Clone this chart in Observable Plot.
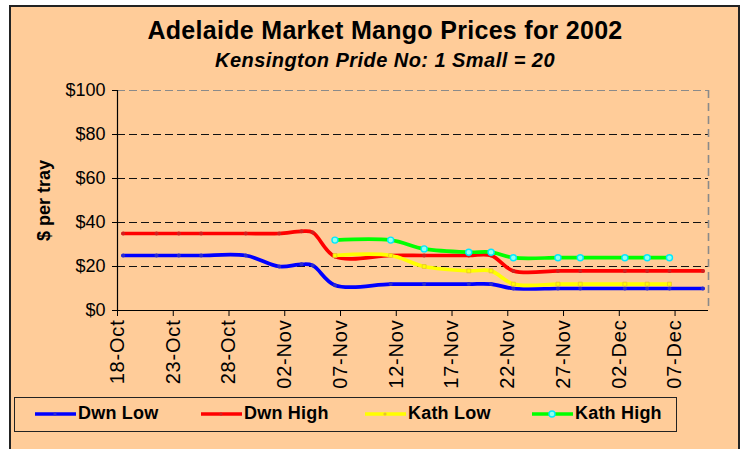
<!DOCTYPE html>
<html>
<head>
<meta charset="utf-8">
<script src="https://cdn.jsdelivr.net/npm/d3@7"></script>
<script src="https://cdn.jsdelivr.net/npm/@observablehq/plot@0.6"></script>
<style>
  html, body { margin: 0; padding: 0; background: #ffffff; width: 747px; height: 449px; overflow: hidden; }
  body { font-family: "Liberation Sans", Arial, sans-serif; position: relative; }
  #frame { position: absolute; left: 9px; top: 5px; width: 731px; height: 470px; background: #FFCC99; border: 2px solid #222; box-sizing: border-box; }
  .title { position: absolute; left: 0; width: 770px; text-align: center; color: #000; font-weight: bold; white-space: nowrap; }
  #t1 { top: 16px; font-size: 25px; letter-spacing: 0.3px; }
  #t2 { top: 49px; font-size: 20px; font-style: italic; letter-spacing: 0.45px; }
  #chart { position: absolute; left: 0; top: 76px; }
  #legend { position: absolute; left: 14px; top: 397px; width: 663px; height: 35px; border: 1.5px solid #222; box-sizing: border-box; }
  .item { position: absolute; top: 0; height: 32px; }
  .item svg { position: absolute; left: 0; top: 9px; }
  .item span { position: absolute; left: 44px; top: 5px; font-size: 18px; font-weight: bold; white-space: nowrap; letter-spacing: 0.2px; color: #000; }
</style>
</head>
<body>
<div id="frame"></div>
<div class="title" id="t1">Adelaide Market Mango Prices for 2002</div>
<div class="title" id="t2">Kensington Pride No: 1 Small = 20</div>
<div id="chart"></div>
<div id="legend"></div>
<script>
// ---- data ----
const dwnDates = ["2002-10-18","2002-10-21","2002-10-23","2002-10-25","2002-10-29","2002-11-01","2002-11-03","2002-11-04","2002-11-06","2002-11-11","2002-11-14","2002-11-18","2002-11-20","2002-11-22","2002-11-26","2002-11-28","2002-12-02","2002-12-04","2002-12-06","2002-12-09"];
const dwnLow  = [25, 25, 25, 25, 25, 20, 21, 20.5, 11.5, 12, 12, 12, 12, 10, 10, 10, 10, 10, 10, 10];
const dwnHigh = [35, 35, 35, 35, 35, 35, 36, 35.5, 24.5, 25, 25, 25, 25, 18, 18, 18, 18, 18, 18, 18];
const kathDates = ["2002-11-06","2002-11-11","2002-11-14","2002-11-18","2002-11-20","2002-11-22","2002-11-26","2002-11-28","2002-12-02","2002-12-04","2002-12-06"];
const kathLow  = [25, 25, 20, 18, 18, 12, 12, 12, 12, 12, 12];
const kathHigh = [32, 32, 28, 26.5, 26.5, 24, 24, 24, 24, 24, 24];
const seriesNames = ["Dwn Low", "Dwn High", "Kath Low", "Kath High"];
const seriesColors = ["#0000FF", "#FF0000", "#FFFF00", "#00FF00"];
const xTickLabels = ["2002-10-18","2002-10-23","2002-10-28","2002-11-02","2002-11-07","2002-11-12","2002-11-17","2002-11-22","2002-11-27","2002-12-02","2002-12-07"];
const yTicks = [0, 20, 40, 60, 80, 100];
const xDomain = ["2002-10-18", "2002-12-10"];

// ---- build table ----
const parse = d3.utcParse("%Y-%m-%d");
const noon = s => d3.utcHour.offset(parse(s), 12); // each day's point sits in the middle of its day slot
const seriesData = [[dwnDates, dwnLow], [dwnDates, dwnHigh], [kathDates, kathLow], [kathDates, kathHigh]];
const rows = [];
seriesData.forEach(([dates, vals], i) => {
  dates.forEach((d, j) => rows.push({series: seriesNames[i], date: noon(d), value: vals[j]}));
});
const colorOf = Object.fromEntries(seriesNames.map((s, i) => [s, seriesColors[i]]));
const x0 = parse(xDomain[0]), x1 = parse(xDomain[1]);

const chart = Plot.plot({
  width: 747,
  height: 324,
  marginLeft: 117,
  marginRight: 39,
  marginTop: 14,
  marginBottom: 90,
  style: {background: "none", color: "#000", fontFamily: "'Liberation Sans', Arial, sans-serif", overflow: "visible"},
  x: {type: "utc", domain: [x0, x1]},
  y: {domain: [0, 100]},
  marks: [
    Plot.ruleY(yTicks.filter(v => v > 0 && v < 100), {stroke: "#111", strokeWidth: 1, strokeDasharray: "8,4"}),
    Plot.ruleY([100], {stroke: "#8a8a8a", strokeWidth: 1.2, strokeDasharray: "8,4"}),
    Plot.ruleX([x1], {stroke: "#8a8a8a", strokeWidth: 1.6, strokeDasharray: "8,5"}),
    Plot.ruleX([x0], {stroke: "#000", strokeWidth: 1.2}),
    Plot.ruleY([0], {stroke: "#000", strokeWidth: 1.2}),
    Plot.axisY({ticks: yTicks, tickFormat: d => "$" + d, tickSize: 5, tickPadding: 7, fontSize: 18, label: null}),
    Plot.axisX({ticks: xTickLabels.map(parse), tickFormat: d3.utcFormat("%d-%b"), tickRotate: -90, tickSize: 6, tickPadding: 3, fontSize: 20, label: null}),
    Plot.text(["$ per tray"], {frameAnchor: "left", textAnchor: "middle", dx: -73, rotate: -90, fontWeight: "bold", fontSize: 18, fill: "#000"}),
    Plot.line(rows, {x: "date", y: "value", z: "series", stroke: d => colorOf[d.series], strokeWidth: 3.7, curve: "catmull-rom"}),
    Plot.dot(rows.filter(d => d.series.startsWith("Dwn")), {x: "date", y: "value", r: 2, fill: d => d.series === "Dwn Low" ? "#2a2ad0" : "#d02020", stroke: "none"}),
    Plot.dot(rows.filter(d => d.series === "Kath Low"), {x: "date", y: "value", r: 2.2, symbol: "square", fill: "#FFFF00", stroke: "#E8C030", strokeWidth: 0.8}),
    Plot.dot(rows.filter(d => d.series === "Kath High"), {x: "date", y: "value", r: 3, fill: "#90FFF0", stroke: "#00E8FF", strokeWidth: 1.4})
  ]
});
chart.querySelectorAll('g[aria-label="x-axis tick label"]').forEach(el => el.setAttribute("letter-spacing", "0.8"));
document.getElementById("chart").appendChild(chart);

// ---- legend ----
const legend = document.getElementById("legend");
const legendX = [19, 185, 349, 516];
seriesNames.forEach((name, i) => {
  const item = document.createElement("div");
  item.className = "item";
  item.style.left = legendX[i] + "px";
  const marker = i === 3
    ? `<circle cx="21" cy="7" r="3" fill="#90FFF0" stroke="#00E8FF" stroke-width="1.4"/>`
    : `<circle cx="21" cy="7" r="1.6" fill="${i === 0 ? '#2a2ad0' : i === 1 ? '#d02020' : '#E8C030'}"/>`;
  item.innerHTML = `<svg width="44" height="14"><line x1="1" y1="7" x2="42" y2="7" stroke="${seriesColors[i]}" stroke-width="3.7"/>${marker}</svg><span>${name}</span>`;
  legend.appendChild(item);
});
</script>
</body>
</html>
